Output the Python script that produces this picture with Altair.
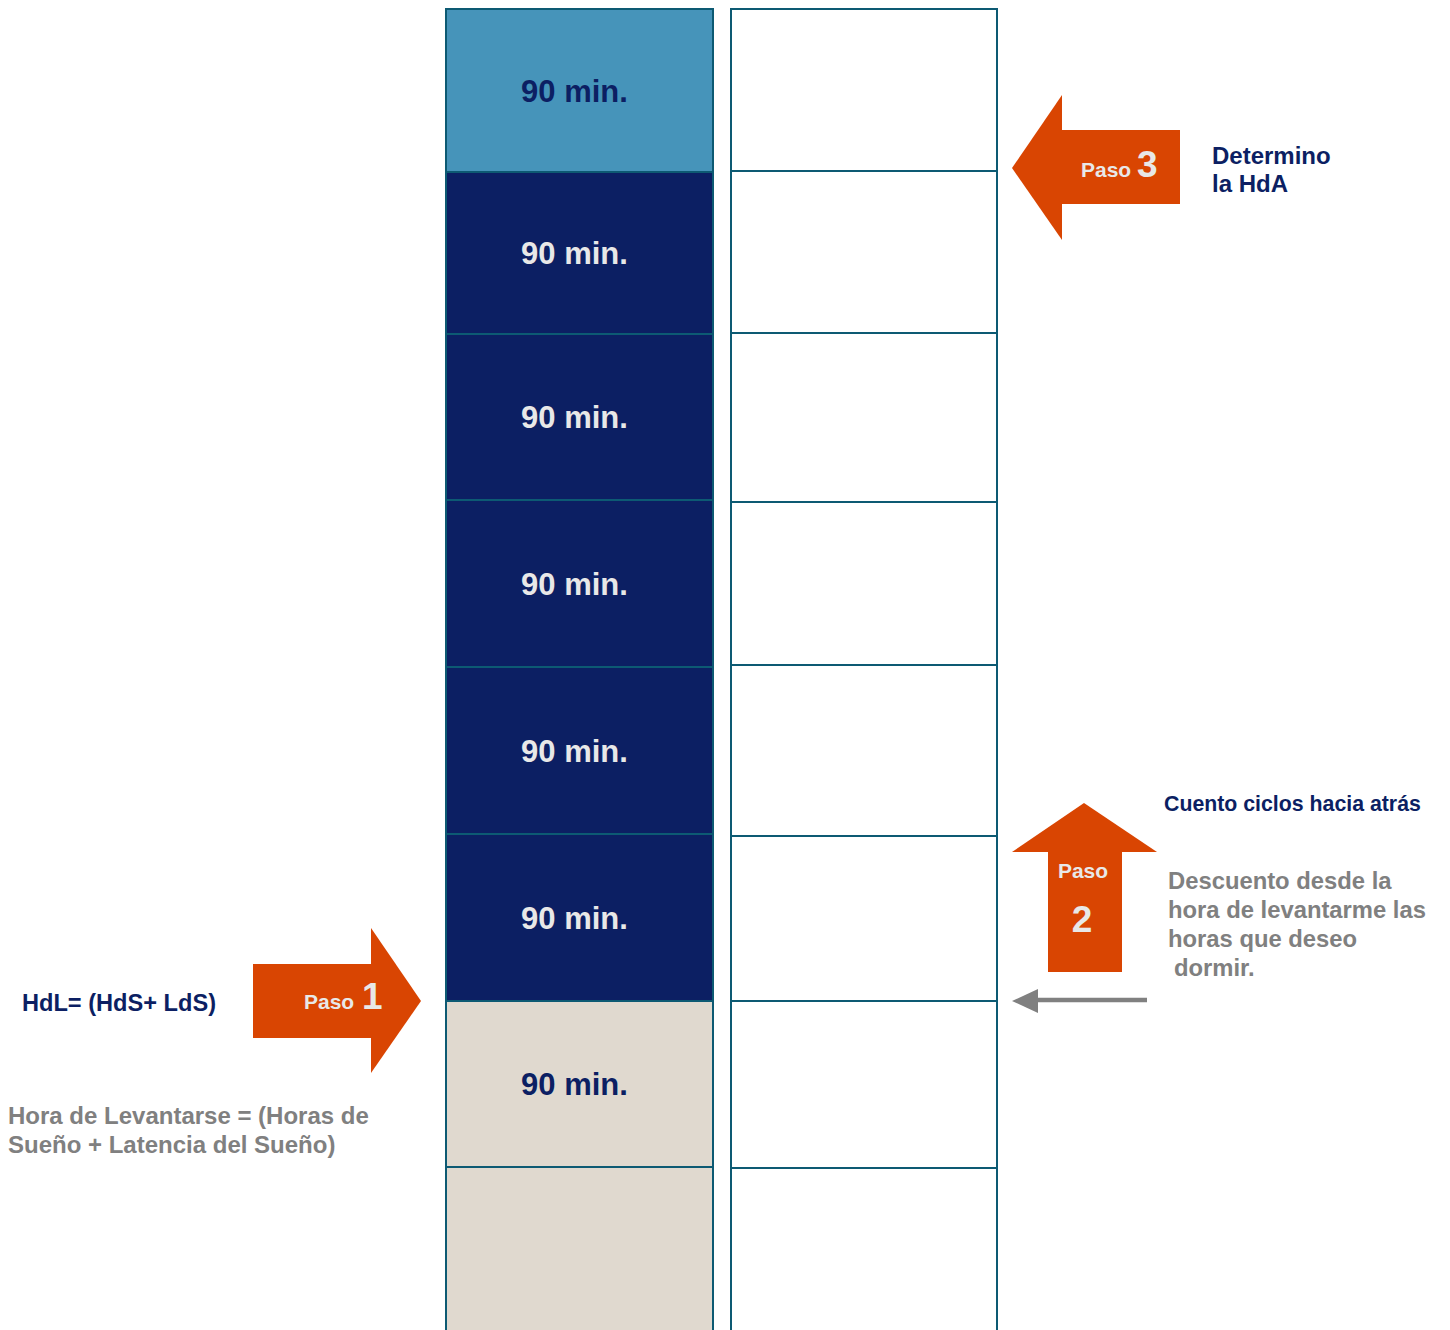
import altair as alt
import pandas as pd

# ---- Diagram data (diagram units = reference pixels) ----
left_edges = [9, 172, 334, 500, 667, 834, 1001, 1167, 1345]
right_edges = [9, 171, 333, 502, 665, 836, 1001, 1168, 1345]
left_col = (446, 713)
right_col = (731, 997)
left_fills = ["#4694BA", "#0C1F63", "#0C1F63", "#0C1F63", "#0C1F63", "#0C1F63", "#E0D9CF", "#E0D9CF"]
cell_labels = ["90 min.", "90 min.", "90 min.", "90 min.", "90 min.", "90 min.", "90 min.", ""]
label_colors = ["#0C1F63", "#E8E8E8", "#E8E8E8", "#E8E8E8", "#E8E8E8", "#E8E8E8", "#0C1F63", "#0C1F63"]

ORANGE = "#D94502"
GRAY = "#808080"

# arrow shafts: (x0, x1, y0, y1, colour)
shafts = [
    (1061, 1180, 130, 204, ORANGE),   # Paso 3
    (253, 372, 964, 1038, ORANGE),    # Paso 1
    (1048, 1122, 851, 972, ORANGE),   # Paso 2
]
# horizontal arrow heads: (id, x, y_top, y_bottom)
h_heads = [
    ("p3", 1012, 168, 168), ("p3", 1062, 95, 240),
    ("p1", 371, 928, 1073), ("p1", 421, 1001, 1001),
]
gray_head = [("g", 1012, 1001, 1001), ("g", 1038, 989, 1013)]
gray_shaft = (1035, 1147, 1000)
# vertical arrow head: (id, y, x_left, x_right)
v_head = [("p2", 803, 1084, 1084), ("p2", 852, 1012, 1157)]

# texts: (text, x, y_baseline, size, color)
texts_left = [
    ("Paso", 1081, 177, 21, "#E8E8E8"),
    ("3", 1137, 177, 37, "#E8E8E8"),
    ("Paso", 304, 1009, 21, "#E8E8E8"),
    ("1", 362, 1009, 37, "#E8E8E8"),
    ("Determino", 1212, 164, 24, "#0C1F63"),
    ("la HdA", 1212, 192, 24, "#0C1F63"),
    ("Cuento ciclos hacia atrás", 1164, 811, 21.3, "#0C1F63"),
    ("Descuento desde la", 1168, 889, 23.8, "#808080"),
    ("hora de levantarme las", 1168, 918, 23.8, "#808080"),
    ("horas que deseo", 1168, 947, 23.8, "#808080"),
    ("dormir.", 1174, 976, 23.8, "#808080"),
    ("HdL= (HdS+ LdS)", 22, 1011, 23.6, "#0C1F63"),
    ("Hora de Levantarse = (Horas de", 8, 1124, 24, "#808080"),
    ("Sueño + Latencia del Sueño)", 8, 1153, 24, "#808080"),
]
texts_center = [
    ("Paso", 1083, 878, 21, "#E8E8E8"),
    ("2", 1082, 932, 37, "#E8E8E8"),
]

FONT = "Liberation Sans"
BORDER = "#0D5A73"

xs = alt.Scale(domain=[8, 1442], nice=False, zero=False)
ys = alt.Scale(domain=[8, 1322], reverse=True, nice=False, zero=False)

# ---- build tables ----
cells = []
for i in range(len(left_edges) - 1):
    cells.append(dict(x0=left_col[0], x1=left_col[1], y0=left_edges[i], y1=left_edges[i + 1],
                      fill=left_fills[i], label=cell_labels[i], lc=label_colors[i],
                      cx=(left_col[0] + left_col[1]) / 2, cy=(left_edges[i] + left_edges[i + 1]) / 2))
for i in range(len(right_edges) - 1):
    cells.append(dict(x0=right_col[0], x1=right_col[1], y0=right_edges[i], y1=right_edges[i + 1],
                      fill="#FFFFFF", label="", lc="#000000",
                      cx=(right_col[0] + right_col[1]) / 2, cy=(right_edges[i] + right_edges[i + 1]) / 2))
cells_df = pd.DataFrame(cells)

rects = alt.Chart(cells_df).mark_rect(stroke=BORDER, strokeWidth=2).encode(
    x=alt.X("x0:Q", scale=xs, axis=None), x2="x1:Q",
    y=alt.Y("y0:Q", scale=ys, axis=None), y2="y1:Q",
    fill=alt.Fill("fill:N", scale=None),
)

labels = alt.Chart(cells_df[cells_df["label"] != ""]).mark_text(
    font=FONT, fontWeight="bold", fontSize=31, align="center", baseline="middle", dx=-5, dy=2
).encode(
    x=alt.X("cx:Q", scale=xs, axis=None), y=alt.Y("cy:Q", scale=ys, axis=None),
    text="label:N", color=alt.Color("lc:N", scale=None),
)

shaft_df = pd.DataFrame(shafts, columns=["x0", "x1", "y0", "y1", "c"])
shaft_rects = alt.Chart(shaft_df).mark_rect().encode(
    x=alt.X("x0:Q", scale=xs, axis=None), x2="x1:Q",
    y=alt.Y("y0:Q", scale=ys, axis=None), y2="y1:Q",
    fill=alt.Fill("c:N", scale=None),
)


def hhead(rows, color):
    df = pd.DataFrame(rows, columns=["id", "hx", "hy", "hy2"])
    return alt.Chart(df).mark_area(color=color).encode(
        x=alt.X("hx:Q", scale=xs, axis=None),
        y=alt.Y("hy:Q", scale=ys, axis=None),
        y2="hy2:Q",
    )


head3 = hhead(h_heads[:2], ORANGE)
head1 = hhead(h_heads[2:], ORANGE)
headg = hhead(gray_head, GRAY)

vdf = pd.DataFrame(v_head, columns=["id", "vy", "vx", "vx2"])
head2 = alt.Chart(vdf).mark_area(color=ORANGE, orient="horizontal").encode(
    y=alt.Y("vy:Q", scale=ys, axis=None),
    x=alt.X("vx:Q", scale=xs, axis=None),
    x2="vx2:Q",
)

gs_df = pd.DataFrame([dict(x=gray_shaft[0], x2=gray_shaft[1], y=gray_shaft[2])])
gshaft = alt.Chart(gs_df).mark_rule(color=GRAY, strokeWidth=4.5).encode(
    x=alt.X("x:Q", scale=xs, axis=None), x2="x2:Q", y=alt.Y("y:Q", scale=ys, axis=None),
)

tl_df = pd.DataFrame(texts_left, columns=["t", "x", "y", "s", "c"])
tl = alt.Chart(tl_df).mark_text(font=FONT, fontWeight="bold", align="left", baseline="alphabetic").encode(
    x=alt.X("x:Q", scale=xs, axis=None), y=alt.Y("y:Q", scale=ys, axis=None),
    text="t:N", size=alt.Size("s:Q", scale=None), color=alt.Color("c:N", scale=None),
)
tc_df = pd.DataFrame(texts_center, columns=["t", "x", "y", "s", "c"])
tc = alt.Chart(tc_df).mark_text(font=FONT, fontWeight="bold", align="center", baseline="alphabetic").encode(
    x=alt.X("x:Q", scale=xs, axis=None), y=alt.Y("y:Q", scale=ys, axis=None),
    text="t:N", size=alt.Size("s:Q", scale=None), color=alt.Color("c:N", scale=None),
)

chart = alt.layer(rects, labels, shaft_rects, head3, head1, headg, head2, gshaft, tl, tc).properties(
    width=1434, height=1314, padding=0, background="white"
).configure_view(stroke=None)

chart.save("out.html", embed_options={"renderer": "svg", "actions": False})
